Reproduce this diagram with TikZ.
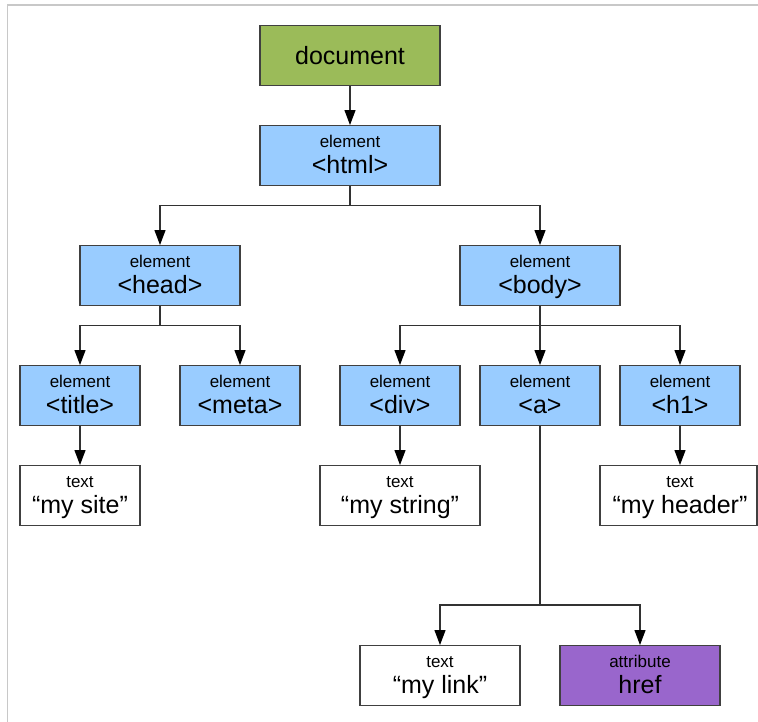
\documentclass[tikz,border=0pt]{standalone}
\usepackage{fontspec}
\setmainfont{Liberation Sans}
\usetikzlibrary{arrows.meta,calc}
\definecolor{docgreen}{RGB}{155,187,89}
\definecolor{elblue}{RGB}{153,204,255}
\definecolor{attpurple}{RGB}{153,102,204}
\definecolor{boxline}{RGB}{64,64,64}
\definecolor{linecol}{RGB}{50,50,50}
\definecolor{framegray}{RGB}{200,200,200}
\tikzset{
  nbox/.style={draw=boxline, line width=1.3pt, minimum height=60pt, inner sep=0pt},
  elbox/.style={nbox, fill=elblue},
  txbox/.style={nbox, fill=white},
  smalltxt/.style={font=\fontsize{17}{20}\selectfont, anchor=base, inner sep=0pt},
  bigtxt/.style={font=\fontsize{25}{30}\selectfont, anchor=base, inner sep=0pt},
  ln/.style={draw=linecol, line width=1.1pt},
  arr/.style={ln, -{Triangle[length=15pt,width=11pt,color=black]}},
}
\newcommand\twoline[3]{%
  \node[smalltxt] (#1-l1) at ([yshift=8pt]#1.center) {#2};
  \node[bigtxt] (#1-l2) at ([yshift=-17.6pt]#1.center) {#3};
}
\begin{document}
\begin{tikzpicture}[x=1pt,y=-1pt]
\useasboundingbox (0,0) rectangle (758,722);
\fill[white] (0,0) rectangle (758,722);
% frame
\coordinate (fl) at (7.3,722);
\coordinate (fc) at (7.3,5);
\coordinate (fr) at (758,5);
\draw[framegray, line width=1.5pt] (fl) -- (fc) -- (fr);

% boxes
\node[nbox, fill=docgreen, minimum width=180pt] (doc) at (350,55.7) {};
\node[bigtxt] (doc-l) at ([yshift=-8.8pt]doc.center) {document};

\node[elbox, minimum width=180pt] (html) at (350,155.7) {};
\twoline{html}{element}{<html>}

\node[elbox, minimum width=160pt] (head) at (160,275.7) {};
\twoline{head}{element}{<head>}
\node[elbox, minimum width=160pt] (body) at (540,275.7) {};
\twoline{body}{element}{<body>}

\node[elbox, minimum width=120pt] (title) at (80,395.7) {};
\twoline{title}{element}{<title>}
\node[elbox, minimum width=120pt] (meta) at (240,395.7) {};
\twoline{meta}{element}{<meta>}
\node[elbox, minimum width=120pt] (div) at (400,395.7) {};
\twoline{div}{element}{<div>}
\node[elbox, minimum width=120pt] (a) at (540,395.7) {};
\twoline{a}{element}{<a>}
\node[elbox, minimum width=120pt] (h1) at (680,395.7) {};
\twoline{h1}{element}{<h1>}

\node[txbox, minimum width=120pt] (mysite) at (80,495.7) {};
\twoline{mysite}{text}{“my site”}
\node[txbox, minimum width=160pt] (mystring) at (400,495.7) {};
\twoline{mystring}{text}{“my string”}
\node[txbox, minimum width=157pt] (myheader) at (678.5,495.7) {};
\node[smalltxt] (myheader-l1) at (680,487.7) {text};
\node[bigtxt] (myheader-l2) at (680,513.3) {“my header”};

\node[txbox, minimum width=160pt] (mylink) at (440,675.7) {};
\twoline{mylink}{text}{“my link”}
\node[nbox, fill=attpurple, minimum width=160pt] (href) at (640,675.7) {};
\twoline{href}{attribute}{href}

% connectors
\draw[arr] (doc) -- (html);

\coordinate (jh) at (350,205.7);
\draw[ln] (html.south) -- (jh);
\draw[arr] (jh) -| (head.north);
\draw[arr] (jh) -| (body.north);

\coordinate (jhd) at (160,325.7);
\draw[ln] (head.south) -- (jhd);
\draw[arr] (jhd) -| (title.north);
\draw[arr] (jhd) -| (meta.north);

\coordinate (jb) at (540,325.7);
\draw[ln] (body.south) -- (jb);
\draw[arr] (jb) -| (div.north);
\draw[arr] (jb) -- (a.north);
\draw[arr] (jb) -| (h1.north);

\draw[arr] (title.south) -- (mysite.north);
\draw[arr] (div.south) -- (mystring.north);
\draw[arr] (h1.south) -- (h1.south |- myheader.north);

\coordinate (ja) at (540,605);
\draw[ln] (a.south) -- (ja);
\draw[arr] (ja) -| (mylink.north);
\draw[arr] (ja) -| (href.north);
\end{tikzpicture}
\end{document}
